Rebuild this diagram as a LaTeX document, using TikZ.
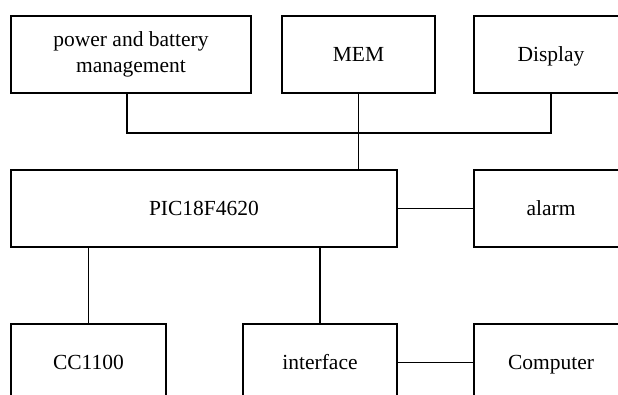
\documentclass[tikz,border=0pt]{standalone}
\usepackage{fontspec}
\setmainfont{Liberation Serif}
\begin{document}
\begin{tikzpicture}[x=1pt,y=-1pt,
  blk/.style={draw,line width=1.2pt,rectangle,inner sep=0pt,align=center,
    font=\fontsize{21.5}{25.5}\selectfont},
  one/.style={blk,text height=19pt,text depth=5pt},
  wire/.style={line width=1.2pt}]
\useasboundingbox (0,0) rectangle (618,394);
\clip (0,0) rectangle (618,394);
\node[blk,minimum width=240pt,minimum height=77pt] (power) at (131,54.5) {power and battery\\management};
\node[one,minimum width=153pt,minimum height=77pt] (mem) at (358.5,54.5) {MEM};
\node[one,minimum width=154pt,minimum height=77pt] (disp) at (551,54.5) {Display};
\node[one,minimum width=386pt,minimum height=77pt] (pic) at (204,208.5) {PIC18F4620};
\node[one,minimum width=154pt,minimum height=77pt] (alarm) at (551,208.5) {alarm};
\node[one,minimum width=155pt,minimum height=77pt] (cc) at (88.5,362.5) {CC1100};
\node[one,minimum width=154pt,minimum height=77pt] (intf) at (320,362.5) {interface};
\node[one,minimum width=154pt,minimum height=77pt] (comp) at (551,362.5) {Computer};
\coordinate (busL) at (127,133);
\coordinate (busR) at (551,133);
\draw[wire] (power.south -| busL) -- (busL) -- (busR) -- (disp.south);
\draw[wire] (mem.south) -- (mem.south |- pic.north);
\draw[wire] (pic.east) -- (alarm.west);
\draw[wire] (cc.north) -- (cc.north |- pic.south);
\draw[wire] (intf.north) -- (intf.north |- pic.south);
\draw[wire] (intf.east) -- (comp.west);
\end{tikzpicture}
\end{document}
